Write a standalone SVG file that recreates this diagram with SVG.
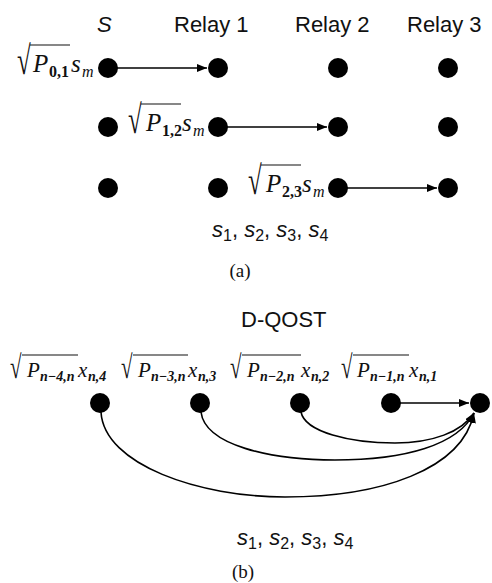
<svg xmlns="http://www.w3.org/2000/svg" width="492" height="583" viewBox="0 0 492 583">
<style>
.sans{font-family:"Liberation Sans",Arial,sans-serif;fill:#111}
.serif{font-family:"Liberation Serif","Times New Roman",serif;fill:#111}
.it{font-style:italic}
.sb{font-weight:bold}
.dot{fill:#000}
.bar{stroke:#111;stroke-width:1.2}
.edge{fill:none;stroke:#000;stroke-width:1.6}
</style>
<defs>
<marker id="ah" markerWidth="10" markerHeight="8" refX="10" refY="4" orient="auto" markerUnits="userSpaceOnUse">
<path d="M0,0 L10,4 L0,8 Z" fill="#000"/>
</marker>
</defs>
<rect width="492" height="583" fill="#fff"/>

<g id="headers" class="sans" font-size="22">
<text x="97" y="32" class="it">S</text>
<text x="174" y="32">Relay 1</text>
<text x="295" y="32">Relay 2</text>
<text x="407" y="32">Relay 3</text>
</g>

<g id="connectors-a">
<line class="edge" x1="108" y1="68" x2="207" y2="68" marker-end="url(#ah)"/>
<line class="edge" x1="218" y1="127" x2="327" y2="127" marker-end="url(#ah)"/>
<line class="edge" x1="338" y1="188" x2="437" y2="188" marker-end="url(#ah)"/>
</g>

<g id="nodes-a">
<g id="a-s-1"><circle class="dot" cx="108" cy="68" r="10"/></g>
<g id="a-r1-1"><circle class="dot" cx="218" cy="68" r="10"/></g>
<g id="a-r2-1"><circle class="dot" cx="338" cy="68" r="10"/></g>
<g id="a-r3-1"><circle class="dot" cx="448" cy="68" r="10"/></g>
<g id="a-s-2"><circle class="dot" cx="108" cy="127" r="10"/></g>
<g id="a-r1-2"><circle class="dot" cx="218" cy="127" r="10"/></g>
<g id="a-r2-2"><circle class="dot" cx="338" cy="127" r="10"/></g>
<g id="a-r3-2"><circle class="dot" cx="448" cy="127" r="10"/></g>
<g id="a-s-3"><circle class="dot" cx="108" cy="188" r="10"/></g>
<g id="a-r1-3"><circle class="dot" cx="218" cy="188" r="10"/></g>
<g id="a-r2-3"><circle class="dot" cx="338" cy="188" r="10"/></g>
<g id="a-r3-3"><circle class="dot" cx="448" cy="188" r="10"/></g>
</g>

<g id="labels-a" class="serif" font-size="25">
<text transform="translate(17,74) scale(1,1.6)">√</text>
<text><tspan x="33" y="72" class="it">P</tspan><tspan x="49" y="77" font-size="16" class="sb">0,1</tspan><tspan x="71" y="72" class="it">s</tspan><tspan x="82" y="77" font-size="16" class="it">m</tspan></text>
<line class="bar" x1="30" y1="45" x2="70" y2="45"/>
<text transform="translate(128,133) scale(1,1.6)">√</text>
<text><tspan x="146" y="131" class="it">P</tspan><tspan x="162" y="136" font-size="16" class="sb">1,2</tspan><tspan x="182" y="131" class="it">s</tspan><tspan x="193" y="136" font-size="16" class="it">m</tspan></text>
<line class="bar" x1="141" y1="104" x2="181" y2="104"/>
<text transform="translate(248,194) scale(1,1.6)">√</text>
<text><tspan x="266" y="192" class="it">P</tspan><tspan x="282" y="197" font-size="16" class="sb">2,3</tspan><tspan x="302" y="192" class="it">s</tspan><tspan x="313" y="197" font-size="16" class="it">m</tspan></text>
<line class="bar" x1="261" y1="165" x2="301" y2="165"/>
</g>

<g id="signals-a" class="sans" font-size="22">
<text x="212" y="237"><tspan class="it">s</tspan><tspan font-size="16" dy="4">1</tspan><tspan dy="-4">, </tspan><tspan class="it">s</tspan><tspan font-size="16" dy="4">2</tspan><tspan dy="-4">, </tspan><tspan class="it">s</tspan><tspan font-size="16" dy="4">3</tspan><tspan dy="-4">, </tspan><tspan class="it">s</tspan><tspan font-size="16" dy="4">4</tspan></text>
</g>
<text class="serif" x="240" y="277" font-size="19" text-anchor="middle">(a)</text>

<text class="sans" x="241" y="327" font-size="22">D-QOST</text>

<g id="labels-b" class="serif" font-size="21">
<text transform="translate(10,378) scale(1,1.55)">√</text>
<text><tspan x="27" y="377" class="it">P</tspan><tspan x="40" y="381" font-size="14" class="it sb">n−4,n</tspan><tspan x="78" y="377" class="it">x</tspan><tspan x="88" y="381" font-size="14" class="it sb">n,4</tspan></text>
<line class="bar" x1="22" y1="355" x2="78" y2="355"/>
<text transform="translate(121,378) scale(1,1.55)">√</text>
<text><tspan x="138" y="377" class="it">P</tspan><tspan x="151" y="381" font-size="14" class="it sb">n−3,n</tspan><tspan x="188" y="377" class="it">x</tspan><tspan x="198" y="381" font-size="14" class="it sb">n,3</tspan></text>
<line class="bar" x1="133" y1="355" x2="188" y2="355"/>
<text transform="translate(230,378) scale(1,1.55)">√</text>
<text><tspan x="247" y="377" class="it">P</tspan><tspan x="260" y="381" font-size="14" class="it sb">n−2,n</tspan><tspan x="301" y="377" class="it">x</tspan><tspan x="311" y="381" font-size="14" class="it sb">n,2</tspan></text>
<line class="bar" x1="242" y1="355" x2="301" y2="355"/>
<text transform="translate(341,378) scale(1,1.55)">√</text>
<text><tspan x="357" y="377" class="it">P</tspan><tspan x="370" y="381" font-size="14" class="it sb">n−1,n</tspan><tspan x="409" y="377" class="it">x</tspan><tspan x="419" y="381" font-size="14" class="it sb">n,1</tspan></text>
<line class="bar" x1="353" y1="355" x2="409" y2="355"/>
</g>

<g id="connectors-b">
<line class="edge" x1="392" y1="403" x2="469" y2="403" marker-end="url(#ah)"/>
<path class="edge" d="M101,412 C104,465 200,497 285,497 C380,497 462,470 474,413" marker-end="url(#ah)"/>
<path class="edge" d="M201,412 C205,445 270,460 335,460 C405,460 458,445 474,413" marker-end="url(#ah)"/>
<path class="edge" d="M301,412 C305,432 350,443 395,443 C432,443 462,432 474,413" marker-end="url(#ah)"/>
</g>

<g id="nodes-b">
<g id="b-n4"><circle class="dot" cx="100" cy="403" r="10"/></g>
<g id="b-n3"><circle class="dot" cx="200" cy="403" r="10"/></g>
<g id="b-n2"><circle class="dot" cx="300" cy="403" r="10"/></g>
<g id="b-n1"><circle class="dot" cx="391" cy="403" r="10"/></g>
<g id="b-n"><circle class="dot" cx="480" cy="403" r="10"/></g>
</g>

<g id="signals-b" class="sans" font-size="22">
<text x="237" y="545"><tspan class="it">s</tspan><tspan font-size="16" dy="4">1</tspan><tspan dy="-4">, </tspan><tspan class="it">s</tspan><tspan font-size="16" dy="4">2</tspan><tspan dy="-4">, </tspan><tspan class="it">s</tspan><tspan font-size="16" dy="4">3</tspan><tspan dy="-4">, </tspan><tspan class="it">s</tspan><tspan font-size="16" dy="4">4</tspan></text>
</g>
<text class="serif" x="243" y="578" font-size="19" text-anchor="middle">(b)</text>
</svg>
